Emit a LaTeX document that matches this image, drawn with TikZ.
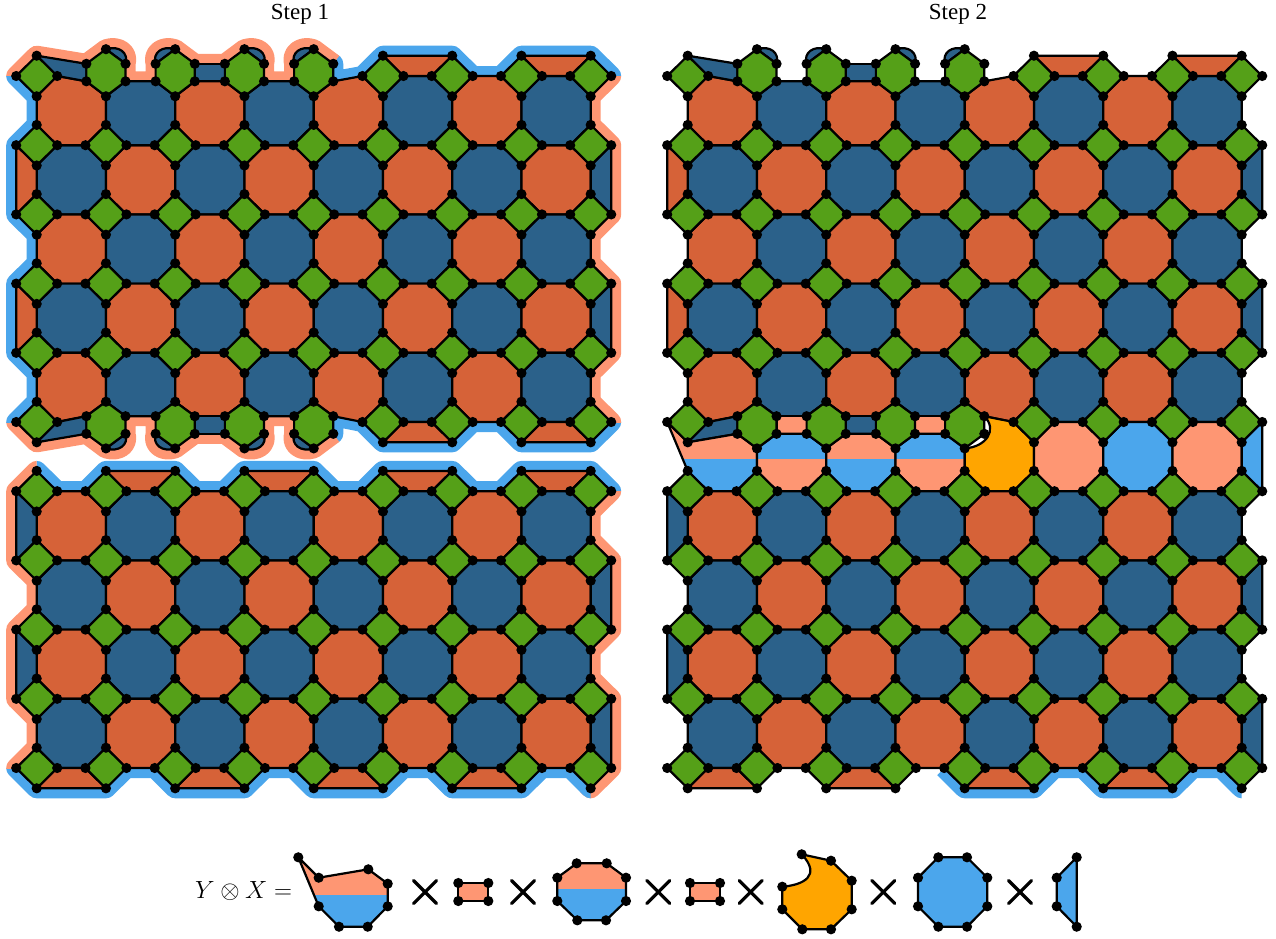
\documentclass[tikz,border=0pt]{standalone}
\usepackage{fontspec}
\setmainfont{Liberation Serif}
\definecolor{orng}{RGB}{214,98,56}
\definecolor{dblue}{RGB}{43,97,138}
\definecolor{grn}{RGB}{85,160,24}
\definecolor{salm}{RGB}{254,150,115}
\definecolor{lblue}{RGB}{75,166,236}
\definecolor{amber}{RGB}{255,165,0}
\tikzset{
 cell/.style={draw=black,line width=2.2pt,line join=round},
 halo/.style={line width=20pt,line join=round,line cap=butt},
 haloround/.style={line width=20pt,line join=round,line cap=round},
 timesmark/.style={line width=3.2pt,line cap=round}
}
% cols: 36.7+69.25 i ; rows: 76+69.2 j
\newcommand\gxy[2]{\pgfmathsetmacro\xa{36.7+69.25*#1}\pgfmathsetmacro\xb{\xa+69.25}\pgfmathsetmacro\ya{76+69.2*#2}\pgfmathsetmacro\yb{\ya+69.2}}
\newcommand\dotat[1]{\fill[black] #1 circle (5.1pt);}
% standard octagon
\newcommand\octa[3]{\gxy{#1}{#2}\draw[cell,fill=#3] (\xa,\ya+20.3)--(\xa+20.5,\ya)--(\xb-20.5,\ya)--(\xb,\ya+20.3)--(\xb,\yb-20.3)--(\xb-20.5,\yb)--(\xa+20.5,\yb)--(\xa,\yb-20.3)--cycle;}
\newcommand\octauto[2]{\pgfmathtruncatemacro\parity{mod(#1+#2,2)}\ifnum\parity=0 \octa{#1}{#2}{orng}\else\octa{#1}{#2}{dblue}\fi}
% row 0 and row 4 octagons with altered top / bottom
\newcommand\octU[3]{\gxy{#1}{0}\draw[cell,fill=#2] (\xa,96.3)--#3--(\xb,96.3)--(\xb,124.9)--(\xb-20.5,145.2)--(\xa+20.5,145.2)--(\xa,124.9)--cycle;}
\newcommand\octD[3]{\gxy{#1}{4}\draw[cell,fill=#2] (\xa,373.1)--(\xa+20.5,352.8)--(\xb-20.5,352.8)--(\xb,373.1)--(\xb,401.7)--#3--(\xa,401.7)--cycle;}
% half octagons
\newcommand\halfL[2]{\gxy{0}{#1}\draw[cell,fill=#2] (16.2,\ya)--(36.7,\ya+20.3)--(36.7,\yb-20.3)--(16.2,\yb)--cycle;}
\newcommand\halfR[2]{\gxy{8}{#1}\draw[cell,fill=#2] (611.2,\ya)--(590.7,\ya+20.3)--(590.7,\yb-20.3)--(611.2,\yb)--cycle;}
% trapezoids: column, y outer, y inner
\newcommand\trap[3]{\gxy{#1}{0}\draw[cell,fill=orng] (\xa,#2)--(\xb,#2)--(\xb-20.5,#3)--(\xa+20.5,#3)--cycle;}
% diamond with dots
\newcommand\diam[2]{\gxy{#1}{#2}\draw[cell,fill=grn] (\xa-20.5,\ya)--(\xa,\ya-20.3)--(\xa+20.5,\ya)--(\xa,\ya+20.3)--cycle;
 \dotat{(\xa-20.5,\ya)}\dotat{(\xa+20.5,\ya)}\dotat{(\xa,\ya-20.3)}\dotat{(\xa,\ya+20.3)}}
% hexagon: column, ys top, upper, lower, bottom
\newcommand\hexa[5]{\gxy{#1}{0}\draw[cell,fill=grn] (\xa,#2)--(\xa+19.6,#3)--(\xa+19.6,#4)--(\xa,#5)--(\xa-19.6,#4)--(\xa-19.6,#3)--cycle;
 \dotat{(\xa,#2)}\dotat{(\xa+19.6,#3)}\dotat{(\xa+19.6,#4)}\dotat{(\xa,#5)}\dotat{(\xa-19.6,#4)}\dotat{(\xa-19.6,#3)}}
\newcommand\hrect[4]{\gxy{#1}{0}\draw[cell,fill=#2] (\xa+19.6,#3)--(\xb-19.6,#3)--(\xb-19.6,#4)--(\xa+19.6,#4)--cycle;}
% split cell: path macro, top colour, bottom colour, split y
\newcommand\splitcell[4]{\begin{scope}\clip #1;\fill[#2] (-100,0) rectangle (1400,#4);\fill[#3] (-100,#4) rectangle (1400,938);\end{scope}\draw[cell] #1;}
% Upper patch shared by both panels
\newcommand\upperpatch{
 \foreach \j in {1,2,3}{\foreach \i in {0,...,7}{\octauto{\i}{\j}}}
 \foreach \i in {5,6,7}{\octauto{\i}{0}\octauto{\i}{4}}
 \octU{0}{orng}{(57.2,76)--(86.35,81.3)}
 \octU{1}{dblue}{(125.55,81.3)--(155.6,81.3)}
 \octU{2}{orng}{(194.8,81.3)--(224.85,81.3)}
 \octU{3}{dblue}{(264.05,81.3)--(294.1,81.3)}
 \octU{4}{orng}{(333.3,81.3)--(362.45,76)}
 \octD{0}{orng}{(86.35,416.2)--(57.2,422)}
 \octD{1}{dblue}{(155.6,416.2)--(125.55,416.2)}
 \octD{2}{orng}{(224.85,416.2)--(194.8,416.2)}
 \octD{3}{dblue}{(294.1,416.2)--(264.05,416.2)}
 \octD{4}{orng}{(362.45,422)--(333.3,416.2)}
 \halfL{1}{orng}\halfL{3}{orng}\halfR{1}{dblue}\halfR{3}{dblue}
 \trap{5}{55.7}{76}\trap{7}{55.7}{76}
 \hrect{2}{dblue}{63.8}{81.3}
 \draw[cell,fill=dblue] (36.7,55.7)--(86.35,63.8)--(86.35,81.3)--(57.2,76)--cycle;
 \draw[cell,fill=dblue] (36.7,442.3)--(86.35,433.8)--(86.35,416.2)--(57.2,422)--cycle;
 \draw[cell,fill=dblue] (105.95,49.2) .. controls (119,45) and (129,53) .. (125.55,63.8)--cycle;
 \draw[cell,fill=dblue] (175.2,49.2) .. controls (162.2,45) and (152.2,53) .. (155.6,63.8)--cycle;
 \draw[cell,fill=dblue] (244.45,49.2) .. controls (257.5,45) and (267.5,53) .. (264.05,63.8)--cycle;
 \draw[cell,fill=dblue] (313.7,49.2) .. controls (300.7,45) and (290.7,53) .. (294.1,63.8)--cycle;
}
% Green cells of upper patch
\newcommand\upperdiamonds{
 \foreach \i in {0,5,6,7,8}{\diam{\i}{0}\diam{\i}{5}}
 \foreach \j in {1,2,3,4}{\foreach \i in {0,...,8}{\diam{\i}{\j}}}
 \foreach \i in {1,2,3,4}{\hexa{\i}{49.2}{63.8}{81.3}{96.3}\hexa{\i}{401.7}{416.2}{433.8}{448.4}}
}
\newcommand\lowerpatch{
 \foreach \j in {6,7,8,9}{\foreach \i in {0,...,7}{\octauto{\i}{\j}}}
 \halfL{6}{dblue}\halfL{8}{dblue}\halfR{7}{dblue}\halfR{9}{dblue}
 \foreach \i in {0,2,4,6}{\trap{\i}{788.3}{768}}
 \foreach \j in {6,...,10}{\foreach \i in {0,...,8}{\diam{\i}{\j}}}
}
\begin{document}
\begin{tikzpicture}[x=1pt,y=-1pt]
\useasboundingbox (0,0) rectangle (1276,938);
\node[font=\fontsize{23}{26}\selectfont] (s1) at (300,14.5) {Step 1};
\node[font=\fontsize{23}{26}\selectfont] (s2) at (958,14.5) {Step 2};
%%%% LEFT PANEL: halos
\begin{scope}
 \clip (300,0)--(640,0)--(640,76)--(600,76)--(600,120)--(300,120)--cycle;
 \draw[haloround,lblue] (333.3,63.8)--(333.3,81.3)--(362.45,76)--(382.95,55.7)--(452.2,55.7)--(472.7,76)--(500.95,76)--(521.45,55.7)--(590.7,55.7)--(611.2,76)--(590.7,96.3);
\end{scope}
\begin{scope}
 \clip (300,470)--(640,470)--(640,422)--(600,422)--(600,390)--(300,390)--cycle;
 \draw[haloround,lblue] (333.3,433.8)--(333.3,416.2)--(362.45,422)--(382.95,442.3)--(452.2,442.3)--(472.7,422)--(500.95,422)--(521.45,442.3)--(590.7,442.3)--(611.2,422)--(590.7,401.7);
\end{scope}
\begin{scope}
 \clip (0,0)--(400,0)--(400,120)--(30,120)--(30,76)--(0,76)--cycle;
 \draw[halo,salm] (16.2,96)--(16.2,76)--(36.7,55.7)--(86.35,63.8)--(105.95,49.2) .. controls (119,45) and (129,53) .. (125.55,63.8)--(125.55,81.3)--(155.6,81.3)--(155.6,63.8) .. controls (152.2,53) and (162.2,45) .. (175.2,49.2)--(194.8,63.8)--(224.85,63.8)--(244.45,49.2) .. controls (257.5,45) and (267.5,53) .. (264.05,63.8)--(264.05,81.3)--(294.1,81.3)--(294.1,63.8) .. controls (290.7,53) and (300.7,45) .. (313.7,49.2)--(333.3,63.8);
\end{scope}
\begin{scope}
 \clip (0,470)--(400,470)--(400,390)--(30,390)--(30,422)--(0,422)--cycle;
 \draw[halo,salm] (16.2,402)--(16.2,422)--(36.7,442.3)--(86.35,433.8)--(105.95,448.4) .. controls (119,452.6) and (129,444.6) .. (125.55,433.8)--(125.55,416.2)--(155.6,416.2)--(155.6,433.8) .. controls (152.2,444.6) and (162.2,452.6) .. (175.2,448.4)--(194.8,433.8)--(224.85,433.8)--(244.45,448.4) .. controls (257.5,452.6) and (267.5,444.6) .. (264.05,433.8)--(264.05,416.2)--(294.1,416.2)--(294.1,433.8) .. controls (290.7,444.6) and (300.7,452.6) .. (313.7,448.4)--(333.3,433.8);
\end{scope}
\begin{scope}
 \clip (0,76) rectangle (60,422);
 \draw[halo,lblue] (36.7,55.7)--(16.2,76)--(36.7,96.3)--(36.7,124.9)--(16.2,145.2)--(16.2,214.4)--(36.7,234.7)--(36.7,263.3)--(16.2,283.6)--(16.2,352.8)--(36.7,373.1)--(36.7,401.7)--(16.2,422)--(36.7,442.3);
\end{scope}
\begin{scope}
 \clip (570,76) rectangle (640,422);
 \draw[halo,salm] (590.7,55.7)--(611.2,76)--(590.7,96.3)--(590.7,124.9)--(611.2,145.2)--(611.2,214.4)--(590.7,234.7)--(590.7,263.3)--(611.2,283.6)--(611.2,352.8)--(590.7,373.1)--(590.7,401.7)--(611.2,422)--(590.7,442.3);
\end{scope}
% lower patch halos
\begin{scope}
 \clip (36.7,455)--(640,455)--(640,491.2)--(580,491.2)--(580,520)--(36.7,520)--cycle;
 \draw[halo,lblue] (16.2,491.2)--(36.7,470.9)--(57.2,491.2)--(85.45,491.2)--(105.95,470.9)--(175.2,470.9)--(195.7,491.2)--(223.95,491.2)--(244.45,470.9)--(313.7,470.9)--(334.2,491.2)--(362.45,491.2)--(382.95,470.9)--(452.2,470.9)--(472.7,491.2)--(500.95,491.2)--(521.45,470.9)--(590.7,470.9)--(611.2,491.2)--(590.7,511.5);
\end{scope}
\begin{scope}
 \clip (580,491.2) rectangle (640,810);
 \draw[halo,salm] (590.7,470.9)--(611.2,491.2)--(590.7,511.5)--(590.7,540.1)--(611.2,560.4)--(611.2,629.6)--(590.7,649.9)--(590.7,678.5)--(611.2,698.8)--(611.2,768)--(590.7,788.3)--(570.2,768);
\end{scope}
\begin{scope}
 \clip (0,768)--(0,810)--(590.7,810)--(590.7,700)--(60,700)--(60,768)--cycle;
 \draw[halo,lblue] (611.2,768)--(590.7,788.3)--(570.2,768)--(541.95,768)--(521.45,788.3)--(452.2,788.3)--(431.7,768)--(403.45,768)--(382.95,788.3)--(313.7,788.3)--(293.2,768)--(264.95,768)--(244.45,788.3)--(175.2,788.3)--(154.7,768)--(126.45,768)--(105.95,788.3)--(36.7,788.3)--(16.2,768)--(36.7,747.7);
\end{scope}
\begin{scope}
 \clip (0,455) rectangle (36.7,768);
 \draw[halo,salm] (36.7,788.3)--(16.2,768)--(36.7,747.7)--(36.7,719.1)--(16.2,698.8)--(16.2,629.6)--(36.7,609.3)--(36.7,580.7)--(16.2,560.4)--(16.2,491.2)--(36.7,470.9)--(57.2,491.2);
\end{scope}
%%%% LEFT PANEL: cells
\upperpatch
\draw[cell,fill=dblue] (105.95,448.4) .. controls (119,452.6) and (129,444.6) .. (125.55,433.8)--cycle;
\draw[cell,fill=dblue] (175.2,448.4) .. controls (162.2,452.6) and (152.2,444.6) .. (155.6,433.8)--cycle;
\draw[cell,fill=dblue] (244.45,448.4) .. controls (257.5,452.6) and (267.5,444.6) .. (264.05,433.8)--cycle;
\draw[cell,fill=dblue] (313.7,448.4) .. controls (300.7,452.6) and (290.7,444.6) .. (294.1,433.8)--cycle;
\hrect{2}{dblue}{416.2}{433.8}
\trap{5}{442.3}{422}\trap{7}{442.3}{422}
\upperdiamonds
\foreach \i in {1,3,5,7}{\trap{\i}{470.9}{491.2}}
\lowerpatch
%%%% RIGHT PANEL
\begin{scope}[xshift=651pt]
 \begin{scope}
  \clip (280,768) rectangle (590.7,810);
  \draw[halo,lblue] (293.2,768)--(313.7,788.3)--(382.95,788.3)--(403.45,768)--(431.7,768)--(452.2,788.3)--(521.45,788.3)--(541.95,768)--(570.2,768)--(590.7,788.3)--(611.2,768);
 \end{scope}
 \upperpatch
 \hrect{1}{salm}{416.2}{433.8}\hrect{2}{dblue}{416.2}{433.8}\hrect{3}{salm}{416.2}{433.8}
 % merged row
 \def\pzero{(16.2,422)--(36.7,442.3)--(86.35,433.8)--(105.95,448.4)--(105.95,470.9)--(85.45,491.2)--(57.2,491.2)--(36.7,470.9)--cycle}
 \splitcell{\pzero}{salm}{lblue}{459.3}
 \def\pone{(105.95,448.4)--(125.55,433.8)--(155.6,433.8)--(175.2,448.4)--(175.2,470.9)--(154.7,491.2)--(126.45,491.2)--(105.95,470.9)--cycle}
 \splitcell{\pone}{lblue}{salm}{459.3}
 \def\ptwo{(175.2,448.4)--(194.8,433.8)--(224.85,433.8)--(244.45,448.4)--(244.45,470.9)--(223.95,491.2)--(195.7,491.2)--(175.2,470.9)--cycle}
 \splitcell{\ptwo}{salm}{lblue}{459.3}
 \def\pthree{(244.45,448.4)--(264.05,433.8)--(294.1,433.8)--(313.7,448.4)--(313.7,470.9)--(293.2,491.2)--(264.95,491.2)--(244.45,470.9)--cycle}
 \splitcell{\pthree}{lblue}{salm}{459.3}
 \draw[cell,fill=amber] (313.7,448.4) .. controls (335,447) and (347,430) .. (333.3,416.2)--(362.45,422)--(382.95,442.3)--(382.95,470.9)--(362.45,491.2)--(334.2,491.2)--(313.7,470.9)--cycle;
 \octa{5}{5}{salm}\octa{6}{5}{lblue}\octa{7}{5}{salm}
 \halfR{5}{lblue}
 \upperdiamonds
 \lowerpatch
\end{scope}
%%%% FORMULA
\node[font=\fontsize{25}{28}\selectfont,anchor=west,inner sep=0pt] (fm) at (195,891) {$Y\otimes X=$};
\def\shA{(298.3,857.3)--(318.7,877.7)--(368.3,869.3)--(387.7,883.7)--(387.7,906.3)--(367.7,926.7)--(339,926.7)--(318.7,906.3)--cycle}
\splitcell{\shA}{salm}{lblue}{895}
\foreach \p in {(298.3,857.3),(318.7,877.7),(368.3,869.3),(387.7,883.7),(387.7,906.3),(367.7,926.7),(339,926.7),(318.7,906.3)}{\dotat{\p}}
\draw[cell,fill=salm] (458.3,883)--(488.3,883)--(488.3,901)--(458.3,901)--cycle;
\foreach \p in {(458.3,883),(488.3,883),(488.3,901),(458.3,901)}{\dotat{\p}}
\def\shB{(557.3,877.7)--(576.7,863.3)--(606.7,863.3)--(626,877.7)--(626,901)--(606,920.3)--(577.3,920.3)--(557.3,901)--cycle}
\splitcell{\shB}{salm}{lblue}{889.3}
\foreach \p in {(557.3,877.7),(576.7,863.3),(606.7,863.3),(626,877.7),(626,901),(606,920.3),(577.3,920.3),(557.3,901)}{\dotat{\p}}
\draw[cell,fill=salm] (690,883)--(720,883)--(720,901)--(690,901)--cycle;
\foreach \p in {(690,883),(720,883),(720,901),(690,901)}{\dotat{\p}}
\draw[cell,fill=amber] (782.3,886.7) .. controls (803,885) and (822,876) .. (801.7,854.3)--(831,860.7)--(851.7,880.7)--(851.7,909.3)--(831,929.3)--(802.3,929.3)--(782.3,909.3)--cycle;
\foreach \p in {(782.3,886.7),(801.7,854.3),(831,860.7),(851.7,880.7),(851.7,909.3),(831,929.3),(802.3,929.3),(782.3,909.3)}{\dotat{\p}}
\draw[cell,fill=lblue] (938.3,857.3)--(967,857.3)--(987.3,877.7)--(987.3,906.3)--(967,926.7)--(938.3,926.7)--(918,906.3)--(918,877.7)--cycle;
\foreach \p in {(938.3,857.3),(967,857.3),(987.3,877.7),(987.3,906.3),(967,926.7),(938.3,926.7),(918,906.3),(918,877.7)}{\dotat{\p}}
\draw[cell,fill=lblue] (1056.7,877.7)--(1076.7,857.3)--(1076.7,926.7)--(1056.7,906.3)--cycle;
\foreach \p in {(1056.7,877.7),(1076.7,857.3),(1076.7,926.7),(1056.7,906.3)}{\dotat{\p}}
\foreach \cx in {425,523,658.3,750.7,883.3,1020}{
 \draw[timesmark] (\cx-11.5,892-11.5)--(\cx+11.5,892+11.5);
 \draw[timesmark] (\cx-11.5,892+11.5)--(\cx+11.5,892-11.5);
}
\end{tikzpicture}
\end{document}
